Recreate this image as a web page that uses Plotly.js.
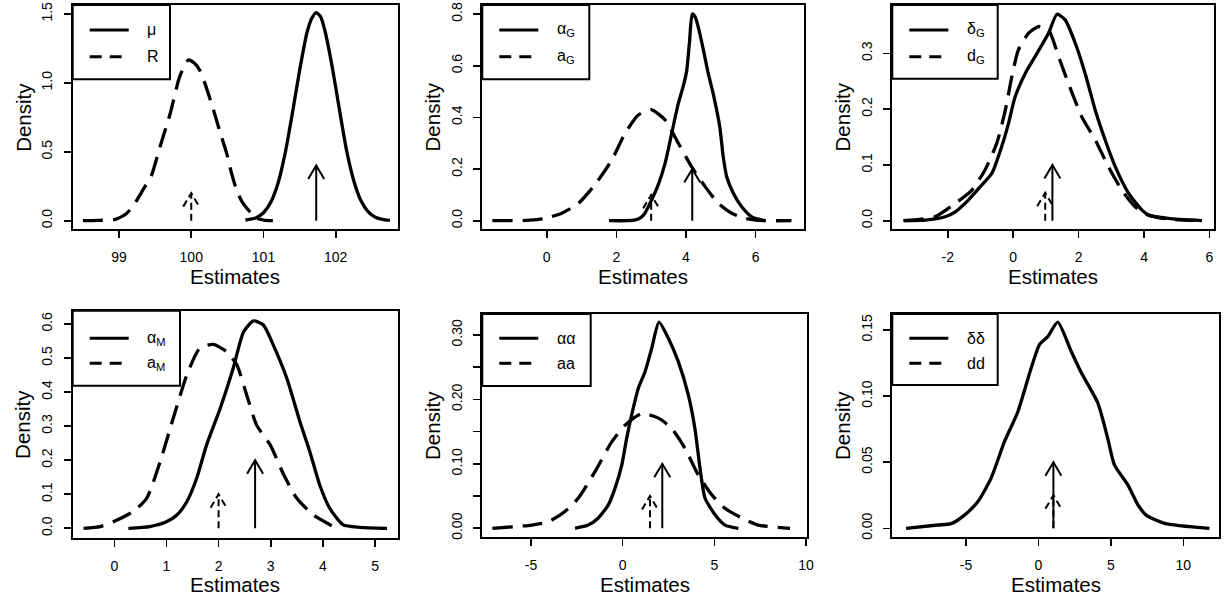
<!DOCTYPE html>
<html><head><meta charset="utf-8">
<script src="https://cdn.plot.ly/plotly-3.0.1.min.js"></script>
<style>html,body{margin:0;padding:0;background:#fff;}</style>
</head><body><div id="chart" style="width:1229px;height:602px;"></div>
<script>
// ---------- Panel 1 : mu / R ----------
const p1SolidX = [100.75, 100.9, 101.0, 101.1, 101.2, 101.3, 101.4, 101.5, 101.6, 101.67, 101.73, 101.79, 101.85, 101.95, 102.05, 102.15, 102.25, 102.35, 102.45, 102.55, 102.65, 102.75];
const p1SolidY = [0.004, 0.022, 0.058, 0.133, 0.27, 0.49, 0.78, 1.09, 1.36, 1.47, 1.51, 1.48, 1.38, 1.12, 0.81, 0.51, 0.29, 0.144, 0.064, 0.025, 0.009, 0.002];
const p1DashX = [98.5, 98.7, 98.95, 99.1, 99.2, 99.35, 99.45, 99.57, 99.71, 99.84, 99.96, 100.05, 100.12, 100.2, 100.31, 100.4, 100.49, 100.56, 100.63, 100.7, 100.77, 100.9, 101.0, 101.13];
const p1DashY = [0, 0.002, 0.01, 0.05, 0.11, 0.24, 0.33, 0.54, 0.78, 1.045, 1.166, 1.14, 1.09, 0.98, 0.80, 0.64, 0.49, 0.34, 0.22, 0.14, 0.09, 0.017, 0.005, 0];
const p1ArrowX = [101.73, 100.0];   // solid, dashed
const p1ArrowH = [0.4, 0.2];
const p1Labels = ["μ", "R"];
const p1XTicks = [99, 100, 101, 102];
const p1YTicks = [0, 0.5, 1.0, 1.5];
const p1YText = ["0.0", "0.5", "1.0", "1.5"];
const p1YMinor = [];

// ---------- Panel 2 : alpha_G / a_G ----------
const p2SolidX = [1.79, 2.3, 2.55, 2.7, 2.82, 3.01, 3.2, 3.4, 3.59, 3.78, 3.92, 4.02, 4.1, 4.18, 4.26, 4.35, 4.5, 4.64, 4.78, 4.97, 5.07, 5.17, 5.36, 5.6, 5.89, 6.27];
const p2SolidY = [0, 0, 0.003, 0.012, 0.029, 0.08, 0.138, 0.222, 0.338, 0.454, 0.52, 0.58, 0.69, 0.80, 0.79, 0.751, 0.661, 0.570, 0.493, 0.364, 0.248, 0.170, 0.106, 0.054, 0.015, 0];
const p2DashX = [-1.56, -0.62, -0.05, 0.43, 0.91, 1.39, 1.87, 2.25, 2.63, 3.0, 3.4, 3.78, 4.16, 4.55, 4.93, 5.31, 5.69, 6.08, 7.03];
const p2DashY = [0, 0.001, 0.009, 0.029, 0.067, 0.14, 0.235, 0.338, 0.409, 0.43, 0.39, 0.30, 0.209, 0.132, 0.067, 0.029, 0.009, 0.001, 0];
const p2ArrowX = [4.18, 3.0];
const p2ArrowH = [0.2, 0.1];
const p2Labels = ["α<sub>G</sub>", "a<sub>G</sub>"];
const p2XTicks = [0, 2, 4, 6];
const p2YTicks = [0, 0.2, 0.4, 0.6, 0.8];
const p2YText = ["0.0", "0.2", "0.4", "0.6", "0.8"];
const p2YMinor = [];

// ---------- Panel 3 : delta_G / d_G ----------
const p3SolidX = [-3.35, -2.69, -2.08, -1.77, -1.37, -0.96, -0.65, -0.35, -0.14, 0.06, 0.37, 0.67, 1.08, 1.34, 1.59, 1.9, 2.2, 2.51, 2.81, 3.12, 3.53, 3.94, 4.14, 4.75, 5.77];
const p3SolidY = [0, 0.001, 0.007, 0.016, 0.037, 0.064, 0.085, 0.133, 0.175, 0.222, 0.264, 0.294, 0.336, 0.370, 0.36, 0.318, 0.264, 0.198, 0.145, 0.097, 0.049, 0.019, 0.010, 0.004, 0];
const p3DashX = [-3.35, -2.39, -1.77, -1.26, -0.86, -0.5, -0.24, -0.04, 0.16, 0.47, 0.77, 1.08, 1.39, 1.69, 2.1, 2.51, 2.91, 3.32, 3.73, 4.14, 4.75, 5.77];
const p3DashY = [0, 0.007, 0.031, 0.055, 0.091, 0.139, 0.198, 0.258, 0.306, 0.336, 0.348, 0.342, 0.294, 0.246, 0.186, 0.145, 0.097, 0.055, 0.025, 0.010, 0.003, 0];
const p3ArrowX = [1.2, 0.98];
const p3ArrowH = [0.1, 0.05];
const p3Labels = ["δ<sub>G</sub>", "d<sub>G</sub>"];
const p3XTicks = [-2, 0, 2, 4, 6];
const p3YTicks = [0, 0.1, 0.2, 0.3];
const p3YText = ["0.0", "0.1", "0.2", "0.3"];
const p3YMinor = [];

// ---------- Panel 4 : alpha_M / a_M ----------
const p4SolidX = [0.27, 0.68, 1.0, 1.2, 1.39, 1.58, 1.77, 2.03, 2.28, 2.48, 2.67, 2.86, 3.05, 3.31, 3.56, 3.75, 3.94, 4.13, 4.39, 4.71, 5.23];
const p4SolidY = [0, 0.005, 0.019, 0.039, 0.078, 0.147, 0.245, 0.352, 0.47, 0.577, 0.609, 0.597, 0.538, 0.44, 0.313, 0.225, 0.127, 0.059, 0.010, 0.003, 0];
const p4DashX = [-0.59, -0.27, -0.02, 0.36, 0.62, 0.88, 1.13, 1.39, 1.64, 1.9, 2.15, 2.35, 2.54, 2.73, 2.99, 3.25, 3.5, 3.82, 4.2];
const p4DashY = [0, 0.005, 0.019, 0.049, 0.088, 0.196, 0.323, 0.45, 0.529, 0.54, 0.519, 0.48, 0.391, 0.303, 0.245, 0.157, 0.088, 0.039, 0.005];
const p4ArrowX = [2.7, 2.0];
const p4ArrowH = [0.2, 0.1];
const p4Labels = ["α<sub>M</sub>", "a<sub>M</sub>"];
const p4XTicks = [0, 1, 2, 3, 4, 5];
const p4YTicks = [0, 0.1, 0.2, 0.3, 0.4, 0.5, 0.6];
const p4YText = ["0.0", "0.1", "0.2", "0.3", "0.4", "0.5", "0.6"];
const p4YMinor = [];

// ---------- Panel 5 : alpha-alpha / aa ----------
const p5SolidX = [-2.6, -1.88, -1.33, -0.79, -0.42, -0.05, 0.22, 0.49, 0.85, 1.22, 1.58, 1.98, 2.49, 3.03, 3.58, 3.94, 4.22, 4.49, 5.04, 5.58, 6.31];
const p5SolidY = [0, 0.005, 0.016, 0.036, 0.062, 0.098, 0.14, 0.176, 0.217, 0.243, 0.279, 0.32, 0.295, 0.259, 0.207, 0.155, 0.093, 0.047, 0.021, 0.005, 0];
const p5DashX = [-7.11, -4.96, -4.06, -3.15, -2.42, -1.51, -0.6, 0.13, 1.04, 1.95, 2.67, 3.4, 4.12, 4.86, 5.58, 6.49, 7.4, 9.13];
const p5DashY = [0, 0.005, 0.010, 0.026, 0.047, 0.088, 0.134, 0.16, 0.178, 0.171, 0.155, 0.124, 0.083, 0.052, 0.031, 0.016, 0.005, 0];
const p5ArrowX = [2.16, 1.49];
const p5ArrowH = [0.1, 0.05];
const p5Labels = ["αα", "aa"];
const p5XTicks = [-5, 0, 5, 10];
const p5YTicks = [0, 0.10, 0.20, 0.30];
const p5YText = ["0.00", "0.10", "0.20", "0.30"];
const p5YMinor = [0.05, 0.15, 0.25];

// ---------- Panel 6 : delta-delta / dd ----------
const p6SolidX = [-9.14, -6.95, -6.03, -5.11, -4.19, -3.27, -2.35, -1.43, -0.51, 0.07, 0.64, 1.33, 2.25, 2.94, 4.09, 4.78, 5.24, 6.16, 6.85, 7.43, 8.7, 11.8];
const p6SolidY = [0, 0.0025, 0.0035, 0.010, 0.020, 0.038, 0.0655, 0.088, 0.121, 0.139, 0.145, 0.156, 0.134, 0.118, 0.095, 0.068, 0.048, 0.033, 0.018, 0.010, 0.0038, 0];
const p6DashX = [];
const p6DashY = [];
const p6ArrowX = [1.03, 1.03];
const p6ArrowH = [0.05, 0.025];
const p6Labels = ["δδ", "dd"];
const p6XTicks = [-5, 0, 5, 10];
const p6YTicks = [0, 0.05, 0.10, 0.15];
const p6YText = ["0.00", "0.05", "0.10", "0.15"];
const p6YMinor = [];

const xTitle = "Estimates";
const yTitle = "Density";

// ---------- layout geometry (pixels) ----------
const W = 1229, H = 602;
const FONT = '"Liberation Sans", Arial, Helvetica, sans-serif';

const panels = [
  {sx:p1SolidX, sy:p1SolidY, dx:p1DashX, dy:p1DashY, ax:p1ArrowX, ah:p1ArrowH, lab:p1Labels, xt:p1XTicks, yt:p1YTicks, ytt:p1YText, ym:p1YMinor,
   box:[72.7, 5, 397.7, 229.3], xr:[98.359, 102.858], yr:[-0.0624, 1.565], legW:97.3, legH:74.3, rows:[25, 51.7]},
  {sx:p2SolidX, sy:p2SolidY, dx:p2DashX, dy:p2DashY, ax:p2ArrowX, ah:p2ArrowH, lab:p2Labels, xt:p2XTicks, yt:p2YTicks, ytt:p2YText, ym:p2YMinor,
   box:[482.3, 5, 804, 229.3], xr:[-1.85, 7.39], yr:[-0.0333, 0.835], legW:107, legH:74.3, rows:[25, 51.7]},
  {sx:p3SolidX, sy:p3SolidY, dx:p3DashX, dy:p3DashY, ax:p3ArrowX, ah:p3ArrowH, lab:p3Labels, xt:p3XTicks, yt:p3YTicks, ytt:p3YText, ym:p3YMinor,
   box:[892.3, 5, 1213.7, 229.3], xr:[-3.694, 6.13], yr:[-0.0154, 0.3866], legW:105.4, legH:73.7, rows:[25, 51.7]},
  {sx:p4SolidX, sy:p4SolidY, dx:p4DashX, dy:p4DashY, ax:p4ArrowX, ah:p4ArrowH, lab:p4Labels, xt:p4XTicks, yt:p4YTicks, ytt:p4YText, ym:p4YMinor,
   box:[72.7, 310.7, 397.7, 537.7], xr:[-0.798, 5.435], yr:[-0.0276, 0.639], legW:107.3, legH:75, rows:[27.6, 52.6]},
  {sx:p5SolidX, sy:p5SolidY, dx:p5DashX, dy:p5DashY, ax:p5ArrowX, ah:p5ArrowH, lab:p5Labels, xt:p5XTicks, yt:p5YTicks, ytt:p5YText, ym:p5YMinor,
   box:[482.3, 314, 806.7, 537.3], xr:[-7.66, 10.04], yr:[-0.014, 0.3326], legW:108.4, legH:72, rows:[24.3, 49.3]},
  {sx:p6SolidX, sy:p6SolidY, dx:p6DashX, dy:p6DashY, ax:p6ArrowX, ah:p6ArrowH, lab:p6Labels, xt:p6XTicks, yt:p6YTicks, ytt:p6YText, ym:p6YMinor,
   box:[892.3, 314, 1219.3, 537.3], xr:[-10.09, 12.48], yr:[-0.0068, 0.1621], legW:105.4, legH:71, rows:[24.3, 49.3]}
];

const traces = [];
const shapes = [];
const annotations = [];
const layout = {
  width: W, height: H,
  margin: {l:0, r:0, t:0, b:0},
  paper_bgcolor: '#ffffff', plot_bgcolor: '#ffffff',
  showlegend: false,
  font: {family: FONT, color: '#000'}
};

const DASH_CURVE = '20px,10px';
const DASH_LEG = '12px,8px';
const DASH_ARROW = '7px,4px';

panels.forEach((p, i) => {
  const s = i === 0 ? '' : String(i + 1);
  const xa = 'x' + s, ya = 'y' + s;
  const [l, t, r, b] = p.box;
  const pxPerX = (r - l) / (p.xr[1] - p.xr[0]);
  const pxPerY = (b - t) / (p.yr[1] - p.yr[0]);

  layout['xaxis' + s] = {
    domain: [l / W, r / W], anchor: ya, range: p.xr, autorange: false,
    tickmode: 'array', tickvals: p.xt, ticktext: p.xt.map(v => String(v)),
    ticks: 'outside', ticklen: 7, tickwidth: 1.6, tickcolor: '#000',
    ticklabelstandoff: 7,
    showline: true, linewidth: 2, linecolor: '#000', mirror: true,
    showgrid: false, zeroline: false, automargin: false,
    tickfont: {family: FONT, size: 14, color: '#000'}
  };
  const yax = {
    domain: [1 - b / H, 1 - t / H], anchor: xa, range: p.yr, autorange: false,
    tickmode: 'array', tickvals: p.yt, ticktext: p.ytt, tickangle: -90,
    ticks: 'outside', ticklen: 7, tickwidth: 1.6, tickcolor: '#000',
    ticklabelstandoff: 6,
    showline: true, linewidth: 2, linecolor: '#000', mirror: true,
    showgrid: false, zeroline: false, automargin: false,
    tickfont: {family: FONT, size: 14, color: '#000'}
  };
  if (p.ym.length) {
    yax.minor = {tickmode: 'array', tickvals: p.ym, ticks: 'outside', ticklen: 7, tickwidth: 1.6, tickcolor: '#000', showgrid: false};
  }
  layout['yaxis' + s] = yax;

  // axis titles
  annotations.push({xref: 'paper', yref: 'paper', x: ((l + r) / 2) / W, y: 1 - (b + 47) / H,
    xanchor: 'center', yanchor: 'middle', showarrow: false, text: xTitle,
    font: {family: FONT, size: 20.5, color: '#000'}});
  annotations.push({xref: 'paper', yref: 'paper', x: (l - 50) / W, y: 1 - ((t + b) / 2) / H,
    xanchor: 'center', yanchor: 'middle', showarrow: false, text: yTitle, textangle: -90,
    font: {family: FONT, size: 20.5, color: '#000'}});

  // density curves
  traces.push({x: p.sx, y: p.sy, xaxis: xa, yaxis: ya, mode: 'lines', hoverinfo: 'skip',
    line: {color: '#000', width: 3.3, shape: 'spline', smoothing: 0.6}});
  if (p.dx.length) {
    traces.push({x: p.dx, y: p.dy, xaxis: xa, yaxis: ya, mode: 'lines', hoverinfo: 'skip',
      line: {color: '#000', width: 3.3, dash: DASH_CURVE, shape: 'spline', smoothing: 0.6}});
  }

  // arrows (solid then dashed), head size in pixels converted through the axis scale
  const hx = 8 / pxPerX, hy = 13.5 / pxPerY;
  p.ax.forEach((ax, k) => {
    const h = p.ah[k];
    const dash = k === 0 ? 'solid' : DASH_ARROW;
    traces.push({x: [ax, ax], y: [0, h], xaxis: xa, yaxis: ya, mode: 'lines', hoverinfo: 'skip',
      line: {color: '#000', width: 2, dash: dash}});
    traces.push({x: [ax - hx, ax, ax + hx], y: [h - hy, h, h - hy], xaxis: xa, yaxis: ya, mode: 'lines', hoverinfo: 'skip',
      line: {color: '#000', width: 2, dash: dash}});
  });

  // legend box
  shapes.push({type: 'rect', xref: 'paper', yref: 'paper', layer: 'above',
    x0: l / W, x1: (l + p.legW) / W, y0: 1 - (t + p.legH) / H, y1: 1 - t / H,
    line: {color: '#000', width: 2}, fillcolor: 'rgba(255,255,255,1)'});
  p.rows.forEach((ry, k) => {
    const yy = 1 - (t + ry) / H;
    shapes.push({type: 'line', xref: 'paper', yref: 'paper', layer: 'above',
      x0: (l + 17) / W, x1: (l + 56) / W, y0: yy, y1: yy,
      line: {color: '#000', width: 3, dash: k === 0 ? 'solid' : DASH_LEG}});
    annotations.push({xref: 'paper', yref: 'paper', x: (l + 72.5) / W, y: yy,
      xanchor: 'left', yanchor: 'middle', showarrow: false, text: p.lab[k],
      font: {family: FONT, size: 16, color: '#000'}});
  });
});

layout.shapes = shapes;
layout.annotations = annotations;

Plotly.newPlot('chart', traces, layout, {staticPlot: true, displayModeBar: false});
</script>
</body></html>
